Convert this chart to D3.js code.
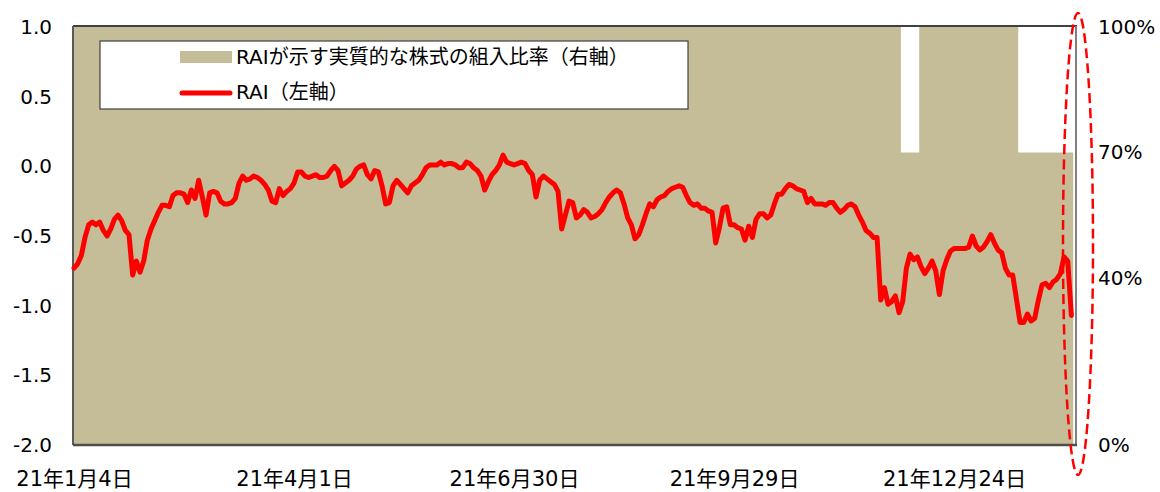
<!DOCTYPE html>
<html>
<head>
<meta charset="utf-8">
<script src="https://cdn.jsdelivr.net/npm/d3@7"></script>
<style>
  body { margin: 0; background: #fff; }
  svg text { font-family: "DejaVu Sans", "Noto Sans CJK JP", sans-serif; fill: #000; }
</style>
</head>
<body>
<svg id="chart" width="1160" height="492"></svg>
<script>
// RAI (left axis), one value per trading day from 21/1/4
var raiValues = [
  -0.73,-0.70,-0.64,-0.51,-0.42,-0.40,-0.42,-0.40,-0.46,-0.50,
  -0.45,-0.38,-0.35,-0.39,-0.46,-0.49,-0.78,-0.68,-0.76,-0.68,
  -0.53,-0.45,-0.39,-0.33,-0.28,-0.28,-0.29,-0.21,-0.19,-0.19,
  -0.20,-0.26,-0.17,-0.23,-0.10,-0.22,-0.35,-0.19,-0.18,-0.19,
  -0.25,-0.27,-0.27,-0.26,-0.23,-0.12,-0.07,-0.10,-0.09,-0.07,
  -0.08,-0.10,-0.13,-0.17,-0.25,-0.26,-0.16,-0.21,-0.18,-0.16,
  -0.12,-0.04,-0.04,-0.07,-0.08,-0.07,-0.06,-0.08,-0.08,-0.07,
  -0.03, 0.00,-0.03,-0.14,-0.12,-0.10,-0.07,-0.02, 0.00, 0.01,
  -0.06,-0.09,-0.03,-0.04,-0.14,-0.27,-0.26,-0.14,-0.10,-0.13,
  -0.16,-0.19,-0.14,-0.12,-0.10,-0.06,-0.01, 0.01, 0.01, 0.01,
   0.03, 0.01, 0.02, 0.02, 0.01,-0.01,-0.01, 0.03, 0.02,-0.01,
  -0.03,-0.07,-0.17,-0.11,-0.06,-0.03, 0.01, 0.08, 0.03, 0.02,
   0.01, 0.02, 0.03, 0.02,-0.03,-0.06,-0.22,-0.10,-0.07,-0.09,
  -0.11,-0.13,-0.18,-0.45,-0.35,-0.25,-0.26,-0.37,-0.35,-0.31,
  -0.33,-0.37,-0.36,-0.34,-0.31,-0.26,-0.22,-0.19,-0.17,-0.19,
  -0.27,-0.37,-0.42,-0.52,-0.49,-0.42,-0.34,-0.27,-0.29,-0.24,
  -0.22,-0.21,-0.18,-0.16,-0.15,-0.14,-0.15,-0.21,-0.26,-0.28,
  -0.27,-0.30,-0.30,-0.32,-0.33,-0.55,-0.44,-0.30,-0.29,-0.42,
  -0.42,-0.44,-0.45,-0.53,-0.43,-0.51,-0.38,-0.34,-0.34,-0.37,
  -0.35,-0.27,-0.20,-0.20,-0.16,-0.13,-0.14,-0.16,-0.17,-0.18,
  -0.26,-0.23,-0.27,-0.27,-0.27,-0.28,-0.26,-0.26,-0.30,-0.33,
  -0.31,-0.28,-0.27,-0.29,-0.35,-0.40,-0.46,-0.48,-0.51,-0.51,
  -0.96,-0.87,-0.99,-0.97,-0.93,-1.05,-0.97,-0.73,-0.63,-0.67,
  -0.65,-0.72,-0.77,-0.73,-0.68,-0.75,-0.92,-0.75,-0.67,-0.61,
  -0.59,-0.59,-0.59,-0.59,-0.58,-0.50,-0.57,-0.60,-0.58,-0.54,
  -0.49,-0.55,-0.60,-0.62,-0.73,-0.78,-0.78,-0.95,-1.12,-1.12,
  -1.06,-1.11,-1.09,-0.96,-0.85,-0.84,-0.87,-0.83,-0.81,-0.77,
  -0.65,-0.68,-1.07
];

// equity ratio (right axis) as runs: [number of days, ratio]
var ratioRuns = [[226, 1.0], [5, 0.7], [27, 1.0], [15, 0.7]];

var xTickIndex = [0, 60, 120, 180, 240];
var xTickLabels = ["21年1月4日", "21年4月1日", "21年6月30日", "21年9月29日", "21年12月24日"];
var leftTicks = [1.0, 0.5, 0.0, -0.5, -1.0, -1.5, -2.0];
var rightTicks = [0, 0.4, 0.7, 1.0];

var ratioValues = [];
ratioRuns.forEach(r => { for (var k = 0; k < r[0]; k++) ratioValues.push(r[1]); });

var plotL = 73, plotR = 1077, plotT = 27, plotB = 445;
var svg = d3.select("#chart");
var tan = "#c4bd97";

var x = d3.scaleLinear().domain([0, raiValues.length - 1]).range([74, 1071.4]);
var yL = d3.scaleLinear().domain([-2, 1]).range([plotB, plotT]);
var yR = d3.scaleLinear().domain([0, 1]).range([plotB, plotT]);

// ratio as a stepped area, each day covering its own slot
var steps = ratioValues.map((v, i) => ({ p: i - 0.5, v: v }));
steps.push({ p: ratioValues.length - 0.5, v: ratioValues[ratioValues.length - 1] });
var area = d3.area()
  .x(d => x(d.p))
  .y0(plotB)
  .y1(d => yR(d.v))
  .curve(d3.curveStepAfter);
svg.append("path").datum(steps).attr("d", area).attr("fill", tan);

// frame
svg.append("line").attr("x1", plotL).attr("x2", plotR).attr("y1", plotT - 1).attr("y2", plotT - 1)
  .attr("stroke", "#000").attr("stroke-width", 1.5);
svg.append("line").attr("x1", plotL).attr("x2", plotL).attr("y1", plotT - 1).attr("y2", plotB)
  .attr("stroke", "#595959").attr("stroke-width", 2);
svg.append("line").attr("x1", plotR - 1).attr("x2", plotR - 1).attr("y1", plotT - 1).attr("y2", plotB)
  .attr("stroke", "#7f7f7f").attr("stroke-width", 2);
svg.append("line").attr("x1", plotL).attr("x2", plotR).attr("y1", plotB).attr("y2", plotB)
  .attr("stroke", "#4d4d4d").attr("stroke-width", 2.5);

// RAI line
var line = d3.line().x((d, i) => x(i)).y(d => yL(d));
svg.append("path")
  .datum(raiValues)
  .attr("d", line)
  .attr("fill", "none")
  .attr("stroke", "#ff0000")
  .attr("stroke-width", 5)
  .attr("stroke-linejoin", "round")
  .attr("stroke-linecap", "round");

// axes
var gl = svg.append("g").attr("transform", `translate(${plotL},0)`)
  .call(d3.axisLeft(yL).tickValues(leftTicks).tickFormat(d => d3.format(".1f")(d).replace("−", "-")).tickSize(0).tickPadding(21));
var gr = svg.append("g").attr("transform", `translate(${plotR},0)`)
  .call(d3.axisRight(yR).tickValues(rightTicks).tickFormat(d3.format(".0%")).tickSize(0).tickPadding(21));
var gx = svg.append("g").attr("transform", `translate(0,${plotB})`)
  .call(d3.axisBottom(x).tickValues(xTickIndex).tickFormat((d, i) => xTickLabels[i]).tickSize(0).tickPadding(26));
[gl, gr, gx].forEach(g => {
  g.select(".domain").remove();
  g.selectAll("text").style("font-size", "20px").attr("fill", "#000");
});
gx.selectAll("text").style("font-size", "21px");

// legend
var lg = svg.append("g");
lg.append("rect").attr("x", 100).attr("y", 41).attr("width", 588).attr("height", 68)
  .attr("fill", "#fff").attr("stroke", "#404040").attr("stroke-width", 1.2);
lg.append("rect").attr("x", 180).attr("y", 51).attr("width", 52).attr("height", 12).attr("fill", tan);
lg.append("line").attr("x1", 182).attr("x2", 230).attr("y1", 93).attr("y2", 93)
  .attr("stroke", "#ff0000").attr("stroke-width", 5).attr("stroke-linecap", "round");
lg.append("text").attr("x", 236).attr("y", 64).style("font-size", "20px").text("RAIが示す実質的な株式の組入比率（右軸）");
lg.append("text").attr("x", 236).attr("y", 99).style("font-size", "20px").text("RAI（左軸）");

// dashed highlight ellipse
svg.append("ellipse")
  .attr("cx", 1078).attr("cy", 244).attr("rx", 15).attr("ry", 231)
  .attr("fill", "none").attr("stroke", "#ff0000").attr("stroke-width", 2.5)
  .attr("stroke-dasharray", "10,5");
</script>
</body>
</html>
